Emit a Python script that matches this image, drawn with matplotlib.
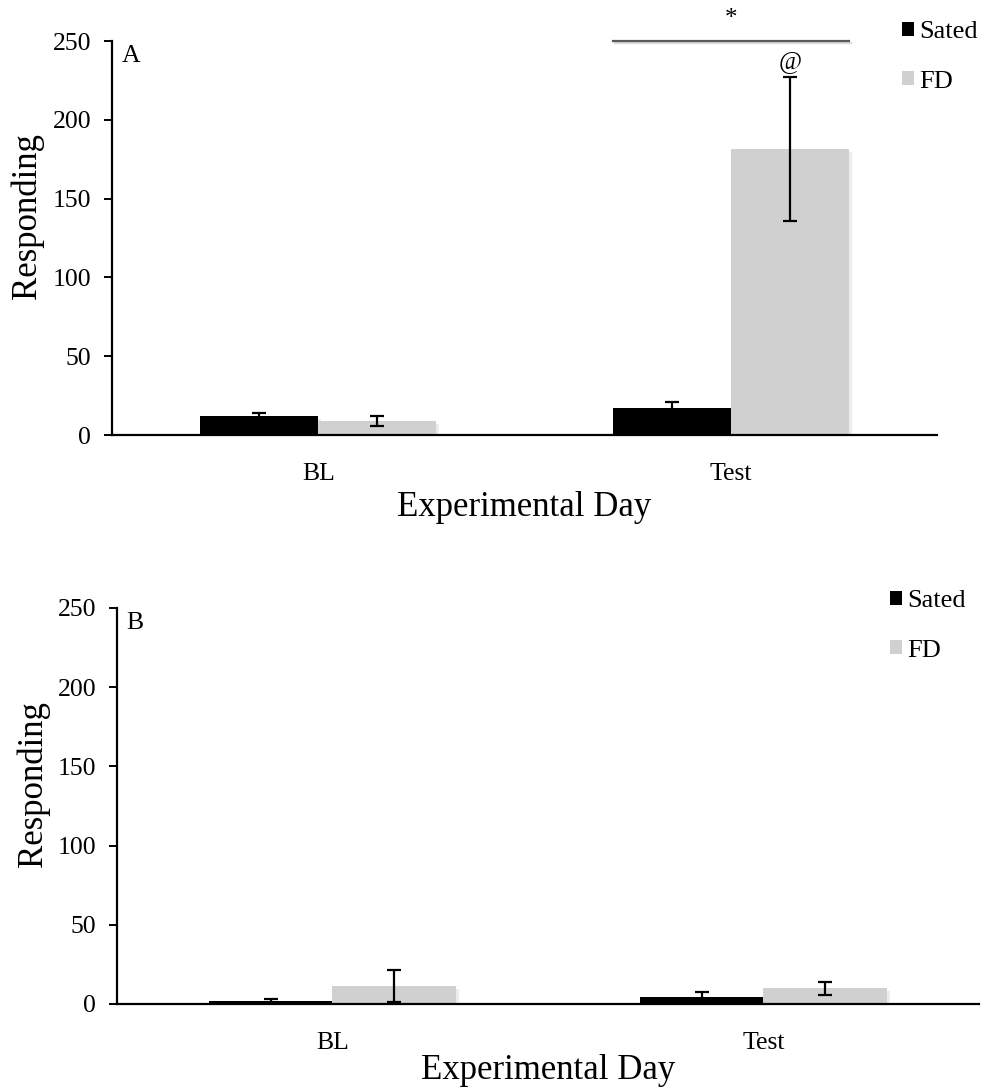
import matplotlib
matplotlib.use("Agg")
import matplotlib.pyplot as plt
import matplotlib.patheffects as pe
from matplotlib.patches import Patch
import numpy as np

plt.rcParams["font.family"] = ["Liberation Serif", "DejaVu Serif"]

# Data
days = ["BL", "Test"]
groups = ["Sated", "FD"]
colors = ["#000000", "#d0d0d0"]

a_sated = [12.0, 17.0]
a_sated_err = [1.7, 4.0]
a_fd = [9.0, 181.5]
a_fd_err = [3.0, 45.7]

b_sated = [1.9, 4.5]
b_sated_err = [1.0, 3.0]
b_fd = [11.2, 9.8]
b_fd_err = [10.0, 4.2]

yticks = [0, 50, 100, 150, 200, 250]

W, H = 987, 1088
fig = plt.figure(figsize=(W / 100, H / 100), dpi=100)


def px_axes(left, right, top, bottom):
    return fig.add_axes([left / W, 1 - bottom / H, (right - left) / W, (bottom - top) / H])


shadow = [pe.SimplePatchShadow(offset=(2, -2), shadow_rgbFace="0.5", alpha=0.15), pe.Normal()]
bar_w = 0.286


def draw_panel(ax, sated, sated_err, fd, fd_err, letter, legend_xy, xlabelpad, ylabel_x):
    x = np.arange(len(days))
    for off, vals, errs, col in [(-bar_w / 2, sated, sated_err, colors[0]),
                                 (bar_w / 2, fd, fd_err, colors[1])]:
        bars = ax.bar(x + off, vals, width=bar_w, color=col, zorder=2)
        for b in bars:
            b.set_path_effects(shadow)
        ax.errorbar(x + off, vals, yerr=errs, fmt="none", ecolor="black",
                    elinewidth=1.6, capsize=5, capthick=1.6, zorder=3)
    ax.set_xlim(-0.5, 1.5)
    ax.set_ylim(0, 250)
    ax.set_yticks(yticks)
    ax.set_xticks(x)
    ax.set_xticklabels(days)
    for s in ["top", "right"]:
        ax.spines[s].set_visible(False)
    for s in ["left", "bottom"]:
        ax.spines[s].set_linewidth(1.6)
    ax.tick_params(axis="y", direction="out", length=6, width=1.4, labelsize=18.5, pad=9)
    ax.tick_params(axis="x", length=0, labelsize=18.5, pad=20)
    ax.set_xlabel("Experimental Day", fontsize=25, labelpad=xlabelpad)
    ax.set_ylabel("Responding", fontsize=25)
    ax.yaxis.set_label_coords(ylabel_x, 0.555)
    ax.annotate(letter, xy=(0, 1), xycoords="axes fraction", xytext=(7, -3),
                textcoords="offset points", fontsize=18.5, va="top", ha="left")
    handles = [Patch(facecolor=c, edgecolor="none") for c in colors]
    fig.legend(handles, groups, loc="upper left",
               bbox_to_anchor=(legend_xy[0] / W, 1 - legend_xy[1] / H),
               frameon=False, fontsize=19, handlelength=0.45, handleheight=0.45,
               handletextpad=0.2, labelspacing=1.05, borderpad=0, borderaxespad=0)
    return ax


axA = px_axes(112, 937, 41, 435)
draw_panel(axA, a_sated, a_sated_err, a_fd, a_fd_err, "A", (902, 21), 4.5, -0.082)

# significance bracket over the Test bars
x_test = 1
axA.plot([x_test - bar_w, x_test + bar_w], [250, 250], color="#595959", lw=1.6,
         clip_on=False, zorder=4,
         path_effects=[pe.SimpleLineShadow(offset=(1.5, -1.5), alpha=0.15), pe.Normal()])
axA.annotate("*", xy=(x_test, 250), xytext=(0, 16), textcoords="offset points",
             ha="center", va="center", fontsize=18, annotation_clip=False)
axA.annotate("@", xy=(x_test + bar_w / 2, a_fd[1] + a_fd_err[1]), xytext=(0, 11),
             textcoords="offset points", ha="center", va="center", fontsize=18,
             annotation_clip=False)

axB = px_axes(117, 979, 608, 1004)
draw_panel(axB, b_sated, b_sated_err, b_fd, b_fd_err, "B", (890, 590), 0, -0.078)

fig.savefig("out.png", dpi=100, facecolor="white")
